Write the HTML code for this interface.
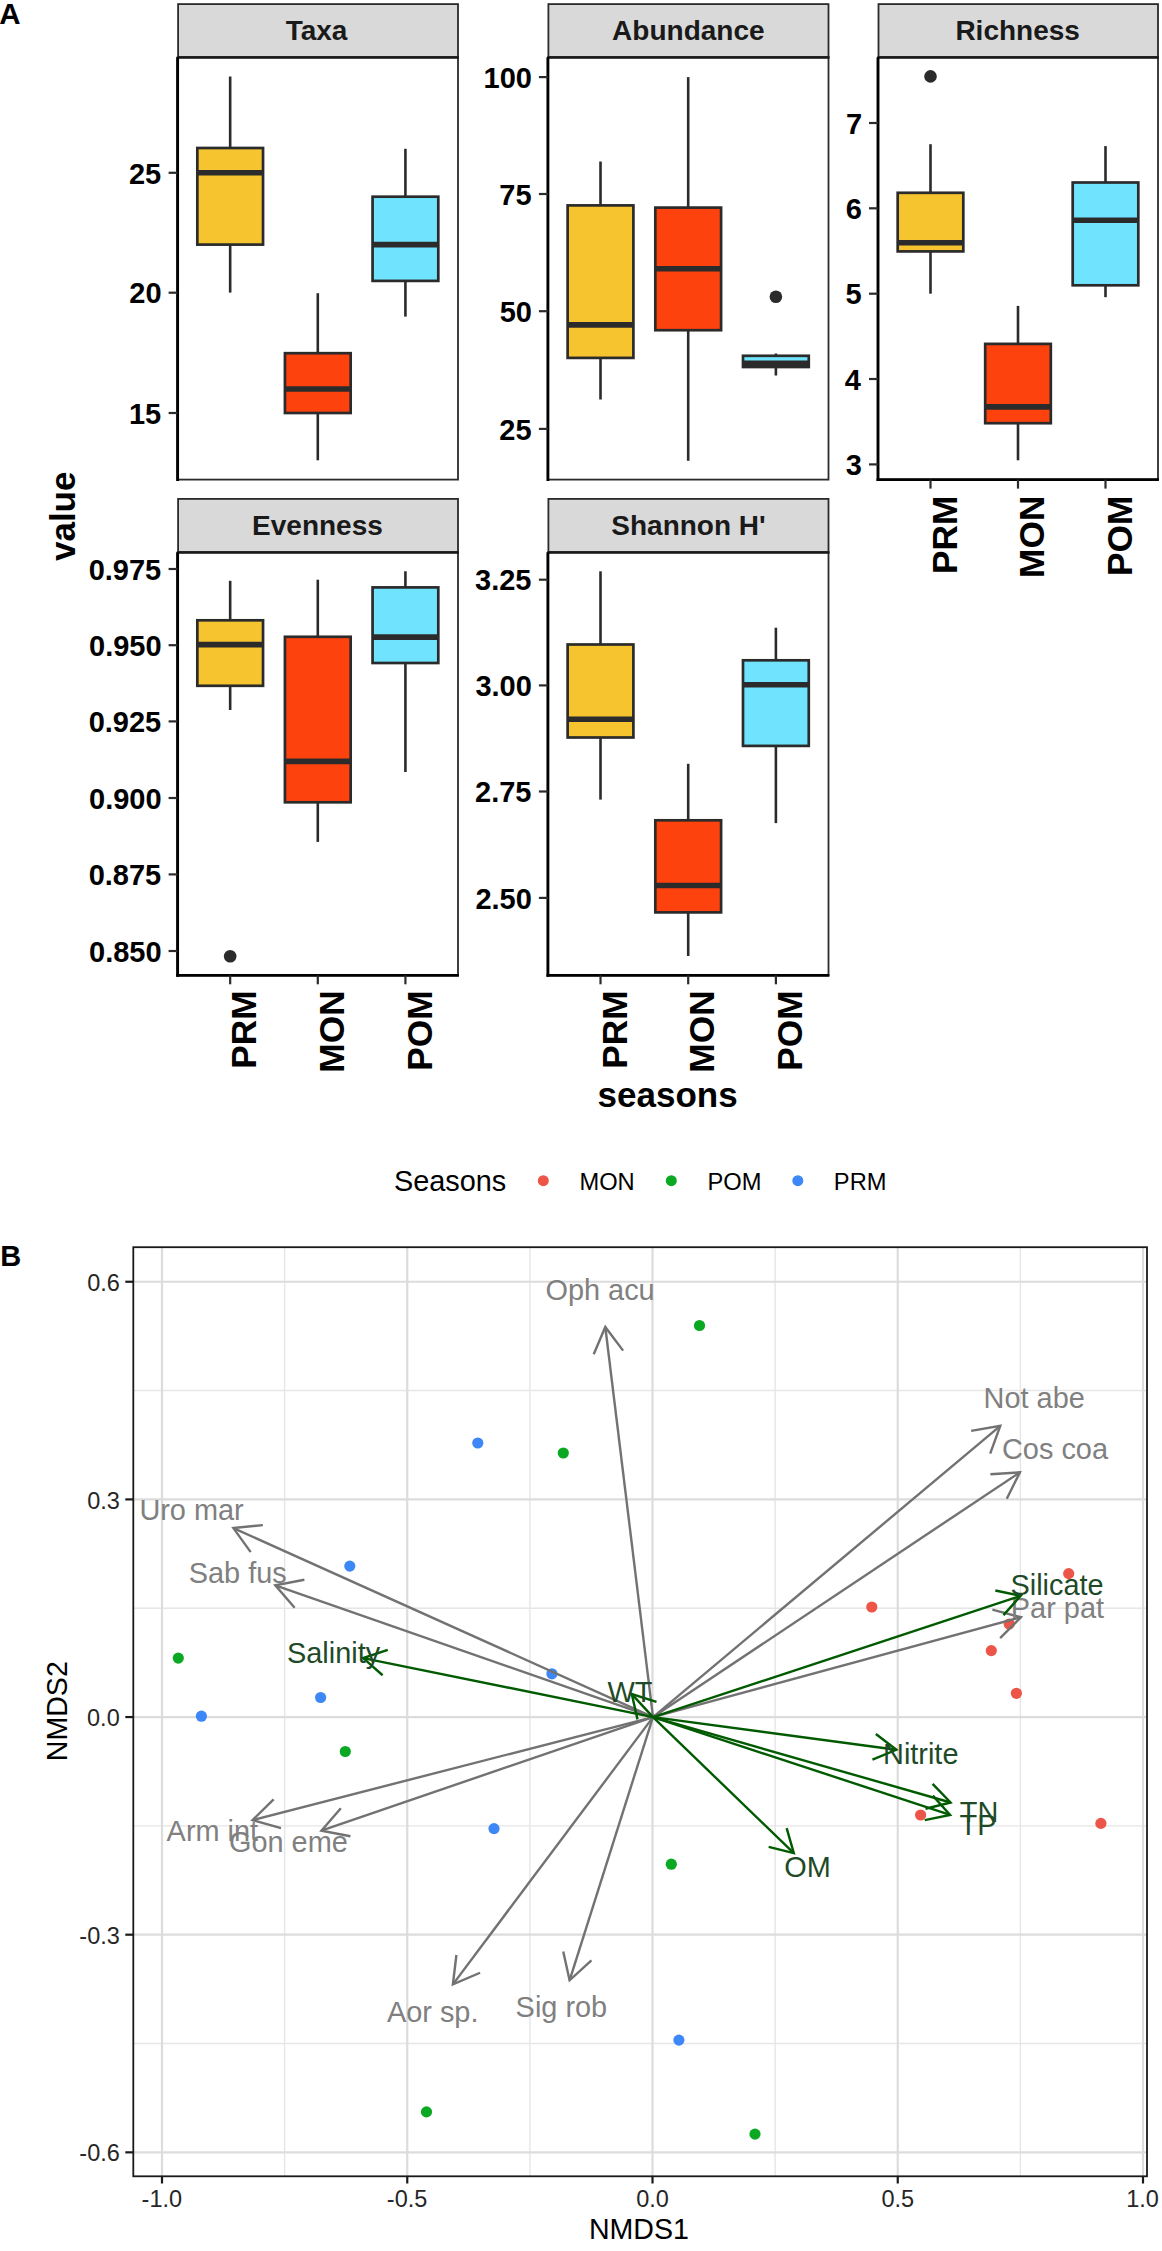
<!DOCTYPE html>
<html><head><meta charset="utf-8"><style>html,body{margin:0;padding:0;background:#fff;}svg{display:block;}text{font-family:"Liberation Sans",sans-serif;}</style></head>
<body><svg width="1162" height="2251" viewBox="0 0 1162 2251"><rect x="178.10" y="4.10" width="279.90" height="53.20" fill="#D9D9D9" stroke="#2A2A2A" stroke-width="1.8"/>
<text x="285.64" y="40.30" font-size="28" font-family="Liberation Sans, sans-serif" font-weight="bold" fill="#1A1A1A" >Taxa</text>
<rect x="177.60" y="57.30" width="280.40" height="422.30" fill="#FFFFFF" stroke="#2B2B2B" stroke-width="1.8"/>
<line x1="177.60" y1="57.60" x2="458.90" y2="57.60" stroke="#1A1A1A" stroke-width="2.5"/>
<line x1="230.17" y1="76.50" x2="230.17" y2="148.00" stroke="#2B2B2B" stroke-width="2.6"/><line x1="230.17" y1="244.60" x2="230.17" y2="292.60" stroke="#2B2B2B" stroke-width="2.6"/><rect x="197.32" y="148.00" width="65.72" height="96.60" fill="#F6C42F" stroke="#2B2B2B" stroke-width="2.7"/><line x1="197.32" y1="172.70" x2="263.03" y2="172.70" stroke="#2B2B2B" stroke-width="5.6"/>
<line x1="317.80" y1="293.20" x2="317.80" y2="353.20" stroke="#2B2B2B" stroke-width="2.6"/><line x1="317.80" y1="413.00" x2="317.80" y2="460.30" stroke="#2B2B2B" stroke-width="2.6"/><rect x="284.94" y="353.20" width="65.72" height="59.80" fill="#FE420E" stroke="#2B2B2B" stroke-width="2.7"/><line x1="284.94" y1="389.00" x2="350.66" y2="389.00" stroke="#2B2B2B" stroke-width="5.6"/>
<line x1="405.42" y1="148.80" x2="405.42" y2="196.70" stroke="#2B2B2B" stroke-width="2.6"/><line x1="405.42" y1="280.90" x2="405.42" y2="316.60" stroke="#2B2B2B" stroke-width="2.6"/><rect x="372.57" y="196.70" width="65.72" height="84.20" fill="#70E3FE" stroke="#2B2B2B" stroke-width="2.7"/><line x1="372.57" y1="244.60" x2="438.28" y2="244.60" stroke="#2B2B2B" stroke-width="5.6"/>
<line x1="177.60" y1="57.30" x2="177.60" y2="481.00" stroke="#000" stroke-width="2.9"/>
<line x1="168.60" y1="172.80" x2="177.60" y2="172.80" stroke="#2B2B2B" stroke-width="2.2"/>
<text x="128.95" y="183.50" font-size="29" font-family="Liberation Sans, sans-serif" font-weight="bold" fill="#000" >25</text>
<line x1="168.60" y1="292.70" x2="177.60" y2="292.70" stroke="#2B2B2B" stroke-width="2.2"/>
<text x="129.33" y="303.40" font-size="29" font-family="Liberation Sans, sans-serif" font-weight="bold" fill="#000" >20</text>
<line x1="168.60" y1="413.00" x2="177.60" y2="413.00" stroke="#2B2B2B" stroke-width="2.2"/>
<text x="128.95" y="423.70" font-size="29" font-family="Liberation Sans, sans-serif" font-weight="bold" fill="#000" >15</text>
<rect x="548.40" y="4.10" width="280.10" height="53.20" fill="#D9D9D9" stroke="#2A2A2A" stroke-width="1.8"/>
<text x="612.10" y="40.30" font-size="28" font-family="Liberation Sans, sans-serif" font-weight="bold" fill="#1A1A1A" >Abundance</text>
<rect x="547.90" y="57.30" width="280.60" height="422.30" fill="#FFFFFF" stroke="#2B2B2B" stroke-width="1.8"/>
<line x1="547.90" y1="57.60" x2="829.40" y2="57.60" stroke="#1A1A1A" stroke-width="2.5"/>
<line x1="600.51" y1="161.50" x2="600.51" y2="205.40" stroke="#2B2B2B" stroke-width="2.6"/><line x1="600.51" y1="357.90" x2="600.51" y2="399.50" stroke="#2B2B2B" stroke-width="2.6"/><rect x="567.63" y="205.40" width="65.77" height="152.50" fill="#F6C42F" stroke="#2B2B2B" stroke-width="2.7"/><line x1="567.63" y1="324.90" x2="633.40" y2="324.90" stroke="#2B2B2B" stroke-width="5.6"/>
<line x1="688.20" y1="77.10" x2="688.20" y2="207.60" stroke="#2B2B2B" stroke-width="2.6"/><line x1="688.20" y1="330.20" x2="688.20" y2="460.80" stroke="#2B2B2B" stroke-width="2.6"/><rect x="655.32" y="207.60" width="65.77" height="122.60" fill="#FE420E" stroke="#2B2B2B" stroke-width="2.7"/><line x1="655.32" y1="268.80" x2="721.08" y2="268.80" stroke="#2B2B2B" stroke-width="5.6"/>
<line x1="775.89" y1="353.50" x2="775.89" y2="355.80" stroke="#2B2B2B" stroke-width="2.6"/><line x1="775.89" y1="367.00" x2="775.89" y2="375.50" stroke="#2B2B2B" stroke-width="2.6"/><rect x="743.00" y="355.80" width="65.77" height="11.20" fill="#70E3FE" stroke="#2B2B2B" stroke-width="2.7"/><line x1="743.00" y1="363.30" x2="808.77" y2="363.30" stroke="#2B2B2B" stroke-width="5.6"/><circle cx="775.89" cy="296.80" r="6.3" fill="#2B2B2B"/>
<line x1="547.90" y1="57.30" x2="547.90" y2="481.00" stroke="#000" stroke-width="2.9"/>
<line x1="538.90" y1="77.10" x2="547.90" y2="77.10" stroke="#2B2B2B" stroke-width="2.2"/>
<text x="483.50" y="87.80" font-size="29" font-family="Liberation Sans, sans-serif" font-weight="bold" fill="#000" >100</text>
<line x1="538.90" y1="194.00" x2="547.90" y2="194.00" stroke="#2B2B2B" stroke-width="2.2"/>
<text x="499.25" y="204.70" font-size="29" font-family="Liberation Sans, sans-serif" font-weight="bold" fill="#000" >75</text>
<line x1="538.90" y1="311.20" x2="547.90" y2="311.20" stroke="#2B2B2B" stroke-width="2.2"/>
<text x="499.63" y="321.90" font-size="29" font-family="Liberation Sans, sans-serif" font-weight="bold" fill="#000" >50</text>
<line x1="538.90" y1="428.90" x2="547.90" y2="428.90" stroke="#2B2B2B" stroke-width="2.2"/>
<text x="499.25" y="439.60" font-size="29" font-family="Liberation Sans, sans-serif" font-weight="bold" fill="#000" >25</text>
<rect x="878.50" y="4.10" width="279.50" height="53.20" fill="#D9D9D9" stroke="#2A2A2A" stroke-width="1.8"/>
<text x="955.39" y="40.30" font-size="28" font-family="Liberation Sans, sans-serif" font-weight="bold" fill="#1A1A1A" >Richness</text>
<rect x="878.00" y="57.30" width="280.00" height="422.30" fill="#FFFFFF" stroke="#2B2B2B" stroke-width="1.8"/>
<line x1="878.00" y1="57.60" x2="1158.90" y2="57.60" stroke="#1A1A1A" stroke-width="2.5"/>
<line x1="930.50" y1="144.20" x2="930.50" y2="192.80" stroke="#2B2B2B" stroke-width="2.6"/><line x1="930.50" y1="251.40" x2="930.50" y2="293.70" stroke="#2B2B2B" stroke-width="2.6"/><rect x="897.69" y="192.80" width="65.62" height="58.60" fill="#F6C42F" stroke="#2B2B2B" stroke-width="2.7"/><line x1="897.69" y1="242.80" x2="963.31" y2="242.80" stroke="#2B2B2B" stroke-width="5.6"/><circle cx="930.50" cy="76.40" r="6.3" fill="#2B2B2B"/>
<line x1="1018.00" y1="305.90" x2="1018.00" y2="343.90" stroke="#2B2B2B" stroke-width="2.6"/><line x1="1018.00" y1="423.20" x2="1018.00" y2="460.30" stroke="#2B2B2B" stroke-width="2.6"/><rect x="985.19" y="343.90" width="65.62" height="79.30" fill="#FE420E" stroke="#2B2B2B" stroke-width="2.7"/><line x1="985.19" y1="406.90" x2="1050.81" y2="406.90" stroke="#2B2B2B" stroke-width="5.6"/>
<line x1="1105.50" y1="146.10" x2="1105.50" y2="182.50" stroke="#2B2B2B" stroke-width="2.6"/><line x1="1105.50" y1="285.30" x2="1105.50" y2="297.20" stroke="#2B2B2B" stroke-width="2.6"/><rect x="1072.69" y="182.50" width="65.62" height="102.80" fill="#70E3FE" stroke="#2B2B2B" stroke-width="2.7"/><line x1="1072.69" y1="220.20" x2="1138.31" y2="220.20" stroke="#2B2B2B" stroke-width="5.6"/>
<line x1="878.00" y1="57.30" x2="878.00" y2="481.00" stroke="#000" stroke-width="2.9"/>
<line x1="869.00" y1="123.00" x2="878.00" y2="123.00" stroke="#2B2B2B" stroke-width="2.2"/>
<text x="845.95" y="133.70" font-size="29" font-family="Liberation Sans, sans-serif" font-weight="bold" fill="#000" >7</text>
<line x1="869.00" y1="208.30" x2="878.00" y2="208.30" stroke="#2B2B2B" stroke-width="2.2"/>
<text x="845.72" y="219.00" font-size="29" font-family="Liberation Sans, sans-serif" font-weight="bold" fill="#000" >6</text>
<line x1="869.00" y1="293.70" x2="878.00" y2="293.70" stroke="#2B2B2B" stroke-width="2.2"/>
<text x="845.48" y="304.40" font-size="29" font-family="Liberation Sans, sans-serif" font-weight="bold" fill="#000" >5</text>
<line x1="869.00" y1="379.00" x2="878.00" y2="379.00" stroke="#2B2B2B" stroke-width="2.2"/>
<text x="844.83" y="389.70" font-size="29" font-family="Liberation Sans, sans-serif" font-weight="bold" fill="#000" >4</text>
<line x1="869.00" y1="464.40" x2="878.00" y2="464.40" stroke="#2B2B2B" stroke-width="2.2"/>
<text x="845.72" y="475.10" font-size="29" font-family="Liberation Sans, sans-serif" font-weight="bold" fill="#000" >3</text>
<line x1="876.60" y1="479.60" x2="1158.90" y2="479.60" stroke="#000" stroke-width="2.8"/>
<line x1="930.50" y1="479.60" x2="930.50" y2="488.60" stroke="#2B2B2B" stroke-width="2.2"/>
<text transform="translate(956.54,574.08) rotate(-90)" font-size="35.3" font-family="Liberation Sans, sans-serif" font-weight="bold" fill="#000">PRM</text>
<line x1="1018.00" y1="479.60" x2="1018.00" y2="488.60" stroke="#2B2B2B" stroke-width="2.2"/>
<text transform="translate(1044.22,577.98) rotate(-90)" font-size="35.3" font-family="Liberation Sans, sans-serif" font-weight="bold" fill="#000">MON</text>
<line x1="1105.50" y1="479.60" x2="1105.50" y2="488.60" stroke="#2B2B2B" stroke-width="2.2"/>
<text transform="translate(1131.72,576.05) rotate(-90)" font-size="35.3" font-family="Liberation Sans, sans-serif" font-weight="bold" fill="#000">POM</text>
<rect x="178.10" y="498.90" width="279.90" height="53.40" fill="#D9D9D9" stroke="#2A2A2A" stroke-width="1.8"/>
<text x="252.07" y="534.50" font-size="28" font-family="Liberation Sans, sans-serif" font-weight="bold" fill="#1A1A1A" >Evenness</text>
<rect x="177.60" y="552.30" width="280.40" height="423.00" fill="#FFFFFF" stroke="#2B2B2B" stroke-width="1.8"/>
<line x1="177.60" y1="552.60" x2="458.90" y2="552.60" stroke="#1A1A1A" stroke-width="2.5"/>
<line x1="230.17" y1="580.80" x2="230.17" y2="620.30" stroke="#2B2B2B" stroke-width="2.6"/><line x1="230.17" y1="685.80" x2="230.17" y2="710.00" stroke="#2B2B2B" stroke-width="2.6"/><rect x="197.32" y="620.30" width="65.72" height="65.50" fill="#F6C42F" stroke="#2B2B2B" stroke-width="2.7"/><line x1="197.32" y1="644.60" x2="263.03" y2="644.60" stroke="#2B2B2B" stroke-width="5.6"/><circle cx="230.17" cy="956.20" r="6.3" fill="#2B2B2B"/>
<line x1="317.80" y1="579.70" x2="317.80" y2="636.80" stroke="#2B2B2B" stroke-width="2.6"/><line x1="317.80" y1="802.30" x2="317.80" y2="841.90" stroke="#2B2B2B" stroke-width="2.6"/><rect x="284.94" y="636.80" width="65.72" height="165.50" fill="#FE420E" stroke="#2B2B2B" stroke-width="2.7"/><line x1="284.94" y1="761.40" x2="350.66" y2="761.40" stroke="#2B2B2B" stroke-width="5.6"/>
<line x1="405.42" y1="571.30" x2="405.42" y2="587.40" stroke="#2B2B2B" stroke-width="2.6"/><line x1="405.42" y1="663.00" x2="405.42" y2="772.00" stroke="#2B2B2B" stroke-width="2.6"/><rect x="372.57" y="587.40" width="65.72" height="75.60" fill="#70E3FE" stroke="#2B2B2B" stroke-width="2.7"/><line x1="372.57" y1="637.10" x2="438.28" y2="637.10" stroke="#2B2B2B" stroke-width="5.6"/>
<line x1="177.60" y1="552.30" x2="177.60" y2="976.70" stroke="#000" stroke-width="2.9"/>
<line x1="168.60" y1="569.00" x2="177.60" y2="569.00" stroke="#2B2B2B" stroke-width="2.2"/>
<text x="88.64" y="579.70" font-size="29" font-family="Liberation Sans, sans-serif" font-weight="bold" fill="#000" >0.975</text>
<line x1="168.60" y1="645.20" x2="177.60" y2="645.20" stroke="#2B2B2B" stroke-width="2.2"/>
<text x="89.02" y="655.90" font-size="29" font-family="Liberation Sans, sans-serif" font-weight="bold" fill="#000" >0.950</text>
<line x1="168.60" y1="721.40" x2="177.60" y2="721.40" stroke="#2B2B2B" stroke-width="2.2"/>
<text x="88.64" y="732.10" font-size="29" font-family="Liberation Sans, sans-serif" font-weight="bold" fill="#000" >0.925</text>
<line x1="168.60" y1="798.00" x2="177.60" y2="798.00" stroke="#2B2B2B" stroke-width="2.2"/>
<text x="89.02" y="808.70" font-size="29" font-family="Liberation Sans, sans-serif" font-weight="bold" fill="#000" >0.900</text>
<line x1="168.60" y1="874.40" x2="177.60" y2="874.40" stroke="#2B2B2B" stroke-width="2.2"/>
<text x="88.64" y="885.10" font-size="29" font-family="Liberation Sans, sans-serif" font-weight="bold" fill="#000" >0.875</text>
<line x1="168.60" y1="951.00" x2="177.60" y2="951.00" stroke="#2B2B2B" stroke-width="2.2"/>
<text x="89.02" y="961.70" font-size="29" font-family="Liberation Sans, sans-serif" font-weight="bold" fill="#000" >0.850</text>
<line x1="176.20" y1="975.30" x2="458.90" y2="975.30" stroke="#000" stroke-width="2.8"/>
<line x1="230.17" y1="975.30" x2="230.17" y2="984.30" stroke="#2B2B2B" stroke-width="2.2"/>
<text transform="translate(256.22,1068.78) rotate(-90)" font-size="35.3" font-family="Liberation Sans, sans-serif" font-weight="bold" fill="#000">PRM</text>
<line x1="317.80" y1="975.30" x2="317.80" y2="984.30" stroke="#2B2B2B" stroke-width="2.2"/>
<text transform="translate(344.02,1072.68) rotate(-90)" font-size="35.3" font-family="Liberation Sans, sans-serif" font-weight="bold" fill="#000">MON</text>
<line x1="405.42" y1="975.30" x2="405.42" y2="984.30" stroke="#2B2B2B" stroke-width="2.2"/>
<text transform="translate(431.65,1070.75) rotate(-90)" font-size="35.3" font-family="Liberation Sans, sans-serif" font-weight="bold" fill="#000">POM</text>
<rect x="548.40" y="498.90" width="280.10" height="53.40" fill="#D9D9D9" stroke="#2A2A2A" stroke-width="1.8"/>
<text x="611.31" y="534.50" font-size="28" font-family="Liberation Sans, sans-serif" font-weight="bold" fill="#1A1A1A" >Shannon H'</text>
<rect x="547.90" y="552.30" width="280.60" height="423.00" fill="#FFFFFF" stroke="#2B2B2B" stroke-width="1.8"/>
<line x1="547.90" y1="552.60" x2="829.40" y2="552.60" stroke="#1A1A1A" stroke-width="2.5"/>
<line x1="600.51" y1="571.30" x2="600.51" y2="644.50" stroke="#2B2B2B" stroke-width="2.6"/><line x1="600.51" y1="737.50" x2="600.51" y2="799.60" stroke="#2B2B2B" stroke-width="2.6"/><rect x="567.63" y="644.50" width="65.77" height="93.00" fill="#F6C42F" stroke="#2B2B2B" stroke-width="2.7"/><line x1="567.63" y1="719.30" x2="633.40" y2="719.30" stroke="#2B2B2B" stroke-width="5.6"/>
<line x1="688.20" y1="763.80" x2="688.20" y2="820.30" stroke="#2B2B2B" stroke-width="2.6"/><line x1="688.20" y1="912.40" x2="688.20" y2="956.00" stroke="#2B2B2B" stroke-width="2.6"/><rect x="655.32" y="820.30" width="65.77" height="92.10" fill="#FE420E" stroke="#2B2B2B" stroke-width="2.7"/><line x1="655.32" y1="885.50" x2="721.08" y2="885.50" stroke="#2B2B2B" stroke-width="5.6"/>
<line x1="775.89" y1="627.70" x2="775.89" y2="660.30" stroke="#2B2B2B" stroke-width="2.6"/><line x1="775.89" y1="745.90" x2="775.89" y2="823.10" stroke="#2B2B2B" stroke-width="2.6"/><rect x="743.00" y="660.30" width="65.77" height="85.60" fill="#70E3FE" stroke="#2B2B2B" stroke-width="2.7"/><line x1="743.00" y1="684.80" x2="808.77" y2="684.80" stroke="#2B2B2B" stroke-width="5.6"/>
<line x1="547.90" y1="552.30" x2="547.90" y2="976.70" stroke="#000" stroke-width="2.9"/>
<line x1="538.90" y1="579.70" x2="547.90" y2="579.70" stroke="#2B2B2B" stroke-width="2.2"/>
<text x="475.06" y="590.40" font-size="29" font-family="Liberation Sans, sans-serif" font-weight="bold" fill="#000" >3.25</text>
<line x1="538.90" y1="685.40" x2="547.90" y2="685.40" stroke="#2B2B2B" stroke-width="2.2"/>
<text x="475.45" y="696.10" font-size="29" font-family="Liberation Sans, sans-serif" font-weight="bold" fill="#000" >3.00</text>
<line x1="538.90" y1="791.50" x2="547.90" y2="791.50" stroke="#2B2B2B" stroke-width="2.2"/>
<text x="475.06" y="802.20" font-size="29" font-family="Liberation Sans, sans-serif" font-weight="bold" fill="#000" >2.75</text>
<line x1="538.90" y1="897.90" x2="547.90" y2="897.90" stroke="#2B2B2B" stroke-width="2.2"/>
<text x="475.45" y="908.60" font-size="29" font-family="Liberation Sans, sans-serif" font-weight="bold" fill="#000" >2.50</text>
<line x1="546.50" y1="975.30" x2="829.40" y2="975.30" stroke="#000" stroke-width="2.8"/>
<line x1="600.51" y1="975.30" x2="600.51" y2="984.30" stroke="#2B2B2B" stroke-width="2.2"/>
<text transform="translate(626.56,1068.78) rotate(-90)" font-size="35.3" font-family="Liberation Sans, sans-serif" font-weight="bold" fill="#000">PRM</text>
<line x1="688.20" y1="975.30" x2="688.20" y2="984.30" stroke="#2B2B2B" stroke-width="2.2"/>
<text transform="translate(714.42,1072.68) rotate(-90)" font-size="35.3" font-family="Liberation Sans, sans-serif" font-weight="bold" fill="#000">MON</text>
<line x1="775.89" y1="975.30" x2="775.89" y2="984.30" stroke="#2B2B2B" stroke-width="2.2"/>
<text transform="translate(802.11,1070.75) rotate(-90)" font-size="35.3" font-family="Liberation Sans, sans-serif" font-weight="bold" fill="#000">POM</text>
<text x="-0.73" y="23.90" font-size="29.5" font-family="Liberation Sans, sans-serif" font-weight="bold" fill="#000" >A</text>
<text transform="translate(74.5,516.3) rotate(-90)" text-anchor="middle" font-size="35" font-family="Liberation Sans, sans-serif" font-weight="bold">value</text>
<text x="597.61" y="1106.80" font-size="35" font-family="Liberation Sans, sans-serif" font-weight="bold" fill="#000" >seasons</text>
<text x="393.89" y="1191.30" font-size="28.9" font-family="Liberation Sans, sans-serif" fill="#000" >Seasons</text>
<circle cx="543.3" cy="1180.7" r="5.5" fill="#EC5547"/>
<text x="579.46" y="1189.60" font-size="23.7" font-family="Liberation Sans, sans-serif" fill="#000" >MON</text>
<circle cx="671.3" cy="1180.7" r="5.5" fill="#0AA823"/>
<text x="707.46" y="1189.60" font-size="23.7" font-family="Liberation Sans, sans-serif" fill="#000" >POM</text>
<circle cx="797.8" cy="1180.7" r="5.5" fill="#3D88F6"/>
<text x="833.86" y="1189.60" font-size="23.7" font-family="Liberation Sans, sans-serif" fill="#000" >PRM</text>
<rect x="133.3" y="1247.2" width="1013.7" height="929.1000000000001" fill="#FFFFFF"/>
<line x1="284.62" y1="1247.2" x2="284.62" y2="2176.3" stroke="#E6E6E6" stroke-width="1.4"/>
<line x1="529.88" y1="1247.2" x2="529.88" y2="2176.3" stroke="#E6E6E6" stroke-width="1.4"/>
<line x1="775.12" y1="1247.2" x2="775.12" y2="2176.3" stroke="#E6E6E6" stroke-width="1.4"/>
<line x1="1020.38" y1="1247.2" x2="1020.38" y2="2176.3" stroke="#E6E6E6" stroke-width="1.4"/>
<line x1="133.3" y1="2043.53" x2="1147.0" y2="2043.53" stroke="#E6E6E6" stroke-width="1.4"/>
<line x1="133.3" y1="1825.88" x2="1147.0" y2="1825.88" stroke="#E6E6E6" stroke-width="1.4"/>
<line x1="133.3" y1="1608.22" x2="1147.0" y2="1608.22" stroke="#E6E6E6" stroke-width="1.4"/>
<line x1="133.3" y1="1390.57" x2="1147.0" y2="1390.57" stroke="#E6E6E6" stroke-width="1.4"/>
<line x1="162.00" y1="1247.2" x2="162.00" y2="2176.3" stroke="#DCDCDC" stroke-width="2.2"/>
<line x1="407.25" y1="1247.2" x2="407.25" y2="2176.3" stroke="#DCDCDC" stroke-width="2.2"/>
<line x1="652.50" y1="1247.2" x2="652.50" y2="2176.3" stroke="#DCDCDC" stroke-width="2.2"/>
<line x1="897.75" y1="1247.2" x2="897.75" y2="2176.3" stroke="#DCDCDC" stroke-width="2.2"/>
<line x1="1143.00" y1="1247.2" x2="1143.00" y2="2176.3" stroke="#DCDCDC" stroke-width="2.2"/>
<line x1="133.3" y1="2152.35" x2="1147.0" y2="2152.35" stroke="#DCDCDC" stroke-width="2.2"/>
<line x1="133.3" y1="1934.70" x2="1147.0" y2="1934.70" stroke="#DCDCDC" stroke-width="2.2"/>
<line x1="133.3" y1="1717.05" x2="1147.0" y2="1717.05" stroke="#DCDCDC" stroke-width="2.2"/>
<line x1="133.3" y1="1499.40" x2="1147.0" y2="1499.40" stroke="#DCDCDC" stroke-width="2.2"/>
<line x1="133.3" y1="1281.75" x2="1147.0" y2="1281.75" stroke="#DCDCDC" stroke-width="2.2"/>
<circle cx="699.5" cy="1325.5" r="5.6" fill="#0AA823"/>
<circle cx="563.3" cy="1453" r="5.6" fill="#0AA823"/>
<circle cx="178.3" cy="1658.1" r="5.6" fill="#0AA823"/>
<circle cx="345.3" cy="1751.5" r="5.6" fill="#0AA823"/>
<circle cx="671.3" cy="1864.2" r="5.6" fill="#0AA823"/>
<circle cx="426.5" cy="2111.9" r="5.6" fill="#0AA823"/>
<circle cx="755" cy="2134.1" r="5.6" fill="#0AA823"/>
<circle cx="477.8" cy="1443" r="5.6" fill="#3D88F6"/>
<circle cx="349.8" cy="1566.1" r="5.6" fill="#3D88F6"/>
<circle cx="551.9" cy="1673.8" r="5.6" fill="#3D88F6"/>
<circle cx="320.6" cy="1697.5" r="5.6" fill="#3D88F6"/>
<circle cx="201.4" cy="1716.2" r="5.6" fill="#3D88F6"/>
<circle cx="494" cy="1828.6" r="5.6" fill="#3D88F6"/>
<circle cx="678.9" cy="2040.1" r="5.6" fill="#3D88F6"/>
<circle cx="1068.7" cy="1573.6" r="5.6" fill="#EC5547"/>
<circle cx="871.8" cy="1607" r="5.6" fill="#EC5547"/>
<circle cx="1009.2" cy="1624" r="5.6" fill="#EC5547"/>
<circle cx="991.3" cy="1650.6" r="5.6" fill="#EC5547"/>
<circle cx="1016.4" cy="1693.3" r="5.6" fill="#EC5547"/>
<circle cx="920.6" cy="1815" r="5.6" fill="#EC5547"/>
<circle cx="1100.9" cy="1823.4" r="5.6" fill="#EC5547"/>
<line x1="653.0" y1="1717.1" x2="605.30" y2="1327.00" stroke="#727272" stroke-width="2.4"/><polyline points="593.72,1354.24 605.30,1327.00 623.10,1350.65" fill="none" stroke="#727272" stroke-width="2.4" stroke-linejoin="miter"/>
<line x1="653.0" y1="1717.1" x2="233.40" y2="1528.10" stroke="#727272" stroke-width="2.4"/><polyline points="250.69,1552.12 233.40,1528.10 262.85,1525.13" fill="none" stroke="#727272" stroke-width="2.4" stroke-linejoin="miter"/>
<line x1="653.0" y1="1717.1" x2="275.30" y2="1585.30" stroke="#727272" stroke-width="2.4"/><polyline points="294.63,1607.72 275.30,1585.30 304.38,1579.77" fill="none" stroke="#727272" stroke-width="2.4" stroke-linejoin="miter"/>
<line x1="653.0" y1="1717.1" x2="1000.30" y2="1425.80" stroke="#727272" stroke-width="2.4"/><polyline points="971.15,1430.93 1000.30,1425.80 990.17,1453.61" fill="none" stroke="#727272" stroke-width="2.4" stroke-linejoin="miter"/>
<line x1="653.0" y1="1717.1" x2="1019.90" y2="1472.30" stroke="#727272" stroke-width="2.4"/><polyline points="990.36,1474.22 1019.90,1472.30 1006.79,1498.84" fill="none" stroke="#727272" stroke-width="2.4" stroke-linejoin="miter"/>
<line x1="653.0" y1="1717.1" x2="1021.00" y2="1617.20" stroke="#727272" stroke-width="2.4"/><polyline points="992.38,1609.63 1021.00,1617.20 1000.14,1638.20" fill="none" stroke="#727272" stroke-width="2.4" stroke-linejoin="miter"/>
<line x1="653.0" y1="1717.1" x2="252.50" y2="1820.10" stroke="#727272" stroke-width="2.4"/><polyline points="281.01,1828.05 252.50,1820.10 273.64,1799.38" fill="none" stroke="#727272" stroke-width="2.4" stroke-linejoin="miter"/>
<line x1="653.0" y1="1717.1" x2="321.40" y2="1830.60" stroke="#727272" stroke-width="2.4"/><polyline points="350.45,1836.30 321.40,1830.60 340.86,1808.30" fill="none" stroke="#727272" stroke-width="2.4" stroke-linejoin="miter"/>
<line x1="653.0" y1="1717.1" x2="452.90" y2="1984.40" stroke="#727272" stroke-width="2.4"/><polyline points="480.11,1972.75 452.90,1984.40 456.41,1955.01" fill="none" stroke="#727272" stroke-width="2.4" stroke-linejoin="miter"/>
<line x1="653.0" y1="1717.1" x2="569.60" y2="1980.30" stroke="#727272" stroke-width="2.4"/><polyline points="591.45,1960.33 569.60,1980.30 563.23,1951.39" fill="none" stroke="#727272" stroke-width="2.4" stroke-linejoin="miter"/>
<text x="545.45" y="1299.70" font-size="28.9" font-family="Liberation Sans, sans-serif" fill="#808080" >Oph acu</text>
<text x="139.39" y="1519.70" font-size="28.9" font-family="Liberation Sans, sans-serif" fill="#808080" >Uro mar</text>
<text x="188.71" y="1583.10" font-size="28.9" font-family="Liberation Sans, sans-serif" fill="#808080" >Sab fus</text>
<text x="983.60" y="1407.80" font-size="28.9" font-family="Liberation Sans, sans-serif" fill="#808080" >Not abe</text>
<text x="1002.01" y="1459.10" font-size="28.9" font-family="Liberation Sans, sans-serif" fill="#808080" >Cos coa</text>
<text x="1010.83" y="1618.00" font-size="28.9" font-family="Liberation Sans, sans-serif" fill="#808080" >Par pat</text>
<text x="166.61" y="1840.70" font-size="28.9" font-family="Liberation Sans, sans-serif" fill="#808080" >Arm int</text>
<text x="228.98" y="1852.10" font-size="28.9" font-family="Liberation Sans, sans-serif" fill="#808080" >Gon eme</text>
<text x="386.91" y="2021.60" font-size="28.9" font-family="Liberation Sans, sans-serif" fill="#808080" >Aor sp.</text>
<text x="515.62" y="2017.10" font-size="28.9" font-family="Liberation Sans, sans-serif" fill="#808080" >Sig rob</text>
<line x1="653.0" y1="1717.1" x2="363.20" y2="1658.10" stroke="#005A00" stroke-width="2.4"/><polyline points="382.60,1675.26 363.20,1658.10 387.76,1649.89" fill="none" stroke="#005A00" stroke-width="2.4" stroke-linejoin="miter"/>
<line x1="653.0" y1="1717.1" x2="631.80" y2="1694.10" stroke="#005A00" stroke-width="2.4"/><polyline points="637.48,1719.37 631.80,1694.10 656.52,1701.82" fill="none" stroke="#005A00" stroke-width="2.4" stroke-linejoin="miter"/>
<line x1="653.0" y1="1717.1" x2="1020.70" y2="1595.80" stroke="#005A00" stroke-width="2.4"/><polyline points="995.34,1590.53 1020.70,1595.80 1003.46,1615.13" fill="none" stroke="#005A00" stroke-width="2.4" stroke-linejoin="miter"/>
<line x1="653.0" y1="1717.1" x2="896.40" y2="1749.80" stroke="#005A00" stroke-width="2.4"/><polyline points="875.89,1733.98 896.40,1749.80 872.45,1759.65" fill="none" stroke="#005A00" stroke-width="2.4" stroke-linejoin="miter"/>
<line x1="653.0" y1="1717.1" x2="950.60" y2="1802.50" stroke="#005A00" stroke-width="2.4"/><polyline points="932.61,1783.87 950.60,1802.50 925.47,1808.76" fill="none" stroke="#005A00" stroke-width="2.4" stroke-linejoin="miter"/>
<line x1="653.0" y1="1717.1" x2="950.10" y2="1814.90" stroke="#005A00" stroke-width="2.4"/><polyline points="932.84,1795.59 950.10,1814.90 924.75,1820.19" fill="none" stroke="#005A00" stroke-width="2.4" stroke-linejoin="miter"/>
<line x1="653.0" y1="1717.1" x2="793.80" y2="1853.10" stroke="#005A00" stroke-width="2.4"/><polyline points="786.66,1828.20 793.80,1853.10 768.67,1846.83" fill="none" stroke="#005A00" stroke-width="2.4" stroke-linejoin="miter"/>
<text x="287.04" y="1662.60" font-size="28.9" font-family="Liberation Sans, sans-serif" fill="#1E4A28" >Salinity</text>
<text x="607.60" y="1702.00" font-size="28.9" font-family="Liberation Sans, sans-serif" fill="#1E4A28" >WT</text>
<text x="1010.50" y="1594.80" font-size="28.9" font-family="Liberation Sans, sans-serif" fill="#1E4A28" >Silicate</text>
<text x="883.02" y="1764.00" font-size="28.9" font-family="Liberation Sans, sans-serif" fill="#1E4A28" >Nitrite</text>
<text x="959.84" y="1821.90" font-size="28.9" font-family="Liberation Sans, sans-serif" fill="#1E4A28" >TN</text>
<text x="959.62" y="1835.20" font-size="28.9" font-family="Liberation Sans, sans-serif" fill="#1E4A28" >TP</text>
<text x="784.27" y="1876.70" font-size="28.9" font-family="Liberation Sans, sans-serif" fill="#1E4A28" >OM</text>
<rect x="133.3" y="1247.2" width="1013.7" height="929.1000000000001" fill="none" stroke="#1A1A1A" stroke-width="1.8"/>
<line x1="162.00" y1="2176.3" x2="162.00" y2="2183.5" stroke="#1A1A1A" stroke-width="2.2"/>
<text x="141.59" y="2206.60" font-size="23.5" font-family="Liberation Sans, sans-serif" fill="#262626" >-1.0</text>
<line x1="407.25" y1="2176.3" x2="407.25" y2="2183.5" stroke="#1A1A1A" stroke-width="2.2"/>
<text x="386.87" y="2206.60" font-size="23.5" font-family="Liberation Sans, sans-serif" fill="#262626" >-0.5</text>
<line x1="652.50" y1="2176.3" x2="652.50" y2="2183.5" stroke="#1A1A1A" stroke-width="2.2"/>
<text x="636.17" y="2206.60" font-size="23.5" font-family="Liberation Sans, sans-serif" fill="#262626" >0.0</text>
<line x1="897.75" y1="2176.3" x2="897.75" y2="2183.5" stroke="#1A1A1A" stroke-width="2.2"/>
<text x="881.45" y="2206.60" font-size="23.5" font-family="Liberation Sans, sans-serif" fill="#262626" >0.5</text>
<line x1="1143.00" y1="2176.3" x2="1143.00" y2="2183.5" stroke="#1A1A1A" stroke-width="2.2"/>
<text x="1126.23" y="2206.60" font-size="23.5" font-family="Liberation Sans, sans-serif" fill="#262626" >1.0</text>
<line x1="125.30000000000001" y1="1281.75" x2="133.3" y2="1281.75" stroke="#1A1A1A" stroke-width="2.2"/>
<text x="87.16" y="1290.85" font-size="23.5" font-family="Liberation Sans, sans-serif" fill="#262626" >0.6</text>
<line x1="125.30000000000001" y1="1499.40" x2="133.3" y2="1499.40" stroke="#1A1A1A" stroke-width="2.2"/>
<text x="87.16" y="1508.50" font-size="23.5" font-family="Liberation Sans, sans-serif" fill="#262626" >0.3</text>
<line x1="125.30000000000001" y1="1717.05" x2="133.3" y2="1717.05" stroke="#1A1A1A" stroke-width="2.2"/>
<text x="87.05" y="1726.15" font-size="23.5" font-family="Liberation Sans, sans-serif" fill="#262626" >0.0</text>
<line x1="125.30000000000001" y1="1934.70" x2="133.3" y2="1934.70" stroke="#1A1A1A" stroke-width="2.2"/>
<text x="79.34" y="1943.80" font-size="23.5" font-family="Liberation Sans, sans-serif" fill="#262626" >-0.3</text>
<line x1="125.30000000000001" y1="2152.35" x2="133.3" y2="2152.35" stroke="#1A1A1A" stroke-width="2.2"/>
<text x="79.34" y="2161.45" font-size="23.5" font-family="Liberation Sans, sans-serif" fill="#262626" >-0.6</text>
<text x="588.92" y="2239.40" font-size="28.6" font-family="Liberation Sans, sans-serif" fill="#000" >NMDS1</text>
<text transform="translate(67.2,1711.2) rotate(-90)" text-anchor="middle" font-size="28.6" font-family="Liberation Sans, sans-serif" fill="#000">NMDS2</text>
<text x="0.16" y="1265.60" font-size="29" font-family="Liberation Sans, sans-serif" font-weight="bold" fill="#000" >B</text></svg></body></html>
